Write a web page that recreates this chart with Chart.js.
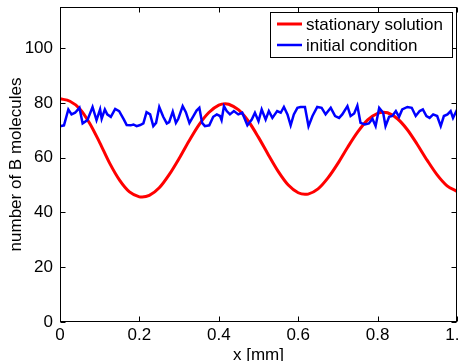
<!DOCTYPE html>
<html>
<head>
<meta charset="utf-8">
<script src="https://cdn.jsdelivr.net/npm/chart.js@4.4.1/dist/chart.umd.min.js"></script>
<style>
  html, body { margin: 0; padding: 0; background: #fff; }
  canvas { display: block; }
</style>
</head>
<body>
<canvas id="chart" width="459" height="361"></canvas>
<script>
// data
const xTicks = [0, 0.2, 0.4, 0.6, 0.8, 1];
const yTicks = [0, 20, 40, 60, 80, 100];

const stationaryX = [0, 0.025, 0.05, 0.075, 0.1, 0.125, 0.15, 0.175, 0.2, 0.207, 0.225, 0.25, 0.275, 0.3, 0.325, 0.35, 0.375, 0.4, 0.416, 0.425, 0.45, 0.475, 0.5, 0.525, 0.55, 0.575, 0.6, 0.617, 0.625, 0.65, 0.675, 0.7, 0.725, 0.75, 0.775, 0.8, 0.814, 0.825, 0.85, 0.875, 0.9, 0.925, 0.95, 0.975, 1.0];
const stationaryY = [81.5, 80.6, 77.8, 72.5, 65.5, 58.0, 51.8, 47.5, 45.7, 45.6, 46.2, 49.0, 53.8, 59.7, 66.1, 72.0, 76.5, 79.2, 79.7, 79.5, 77.4, 73.2, 67.4, 61.0, 54.9, 50.0, 47.2, 46.6, 46.7, 48.6, 52.6, 57.9, 63.9, 69.4, 73.8, 76.2, 76.6, 76.4, 74.2, 70.2, 64.8, 59.0, 53.7, 49.7, 47.7];

const initialX = [0, 0.010, 0.021, 0.029, 0.038, 0.049, 0.057, 0.069, 0.082, 0.092, 0.101, 0.105, 0.113, 0.119, 0.128, 0.139, 0.149, 0.161, 0.168, 0.178, 0.185, 0.193, 0.202, 0.210, 0.218, 0.227, 0.235, 0.242, 0.250, 0.260, 0.269, 0.275, 0.284, 0.292, 0.298, 0.309, 0.317, 0.326, 0.336, 0.344, 0.351, 0.358, 0.365, 0.376, 0.386, 0.395, 0.403, 0.407, 0.413, 0.420, 0.428,
  0.438, 0.449, 0.459, 0.472, 0.483, 0.491, 0.500, 0.508, 0.518, 0.526, 0.535, 0.547, 0.556, 0.564, 0.573, 0.581, 0.589, 0.598, 0.606, 0.617, 0.626, 0.636, 0.648, 0.659, 0.669, 0.682, 0.693, 0.703, 0.711, 0.724, 0.732, 0.741, 0.749, 0.757, 0.768, 0.778, 0.787, 0.795, 0.804, 0.814, 0.820, 0.829, 0.837, 0.846, 0.854, 0.862, 0.875, 0.886, 0.896, 0.906, 0.914, 0.923, 0.931, 0.940, 0.950, 0.959, 0.967, 0.976, 0.984, 0.990, 1.0];
const initialY = [71.5, 71.8, 77.6, 75.8, 76.4, 78.2, 72.5, 73.7, 78.5, 73.7, 77.6, 74.2, 77.6, 75.8, 74.9, 77.8, 77.0, 73.9, 71.9, 71.8, 72.1, 71.5, 71.9, 72.5, 76.6, 75.8, 71.5, 72.7, 78.5, 74.9, 72.5, 73.0, 76.8, 72.7, 74.2, 78.8, 76.6, 72.7, 75.2, 77.2, 78.2, 72.7, 71.5, 71.8, 74.9, 75.8, 75.2, 73.7, 78.8, 77.0, 75.8,
  77.0, 75.8, 76.4, 71.8, 73.9, 76.4, 73.3, 77.6, 73.9, 77.0, 74.5, 77.0, 76.4, 78.5, 75.8, 71.8, 75.8, 78.2, 78.5, 78.5, 71.5, 75.2, 78.5, 78.2, 75.8, 78.2, 75.2, 74.5, 75.8, 78.8, 75.2, 76.1, 79.0, 72.7, 72.1, 72.5, 74.2, 71.5, 78.2, 76.4, 71.5, 74.9, 75.2, 77.0, 74.9, 77.6, 78.5, 78.2, 75.2, 77.0, 77.6, 75.2, 74.5, 75.8, 75.2, 71.5, 75.2, 75.8, 77.0, 74.5, 77.5];

const FONT = '"Liberation Sans", Arial, Helvetica, sans-serif';

const toPoints = (xs, ys) => xs.map((x, i) => ({ x: x, y: ys[i] }));

// box, inward ticks, axis titles and the boxed legend (matlab look)
const matlabFrame = {
  id: 'matlabFrame',
  afterDatasetsDraw(chart) {
    const { ctx, chartArea: a, scales } = chart;
    const L = Math.round(a.left) + 0.5, R = Math.round(a.right) - 0.5;
    const T = Math.round(a.top) + 0.5, B = Math.round(a.bottom) - 0.5;
    ctx.save();
    ctx.strokeStyle = '#000';
    ctx.lineWidth = 1;
    ctx.strokeRect(L, T, R - L, B - T);

    const tl = 5;
    ctx.beginPath();
    xTicks.forEach(v => {
      const px = Math.round(scales.x.getPixelForValue(v)) + 0.5;
      ctx.moveTo(px, B); ctx.lineTo(px, B - tl);
      ctx.moveTo(px, T); ctx.lineTo(px, T + tl);
    });
    yTicks.forEach(v => {
      const py = Math.round(scales.y.getPixelForValue(v)) + 0.5;
      ctx.moveTo(L, py); ctx.lineTo(L + tl, py);
      ctx.moveTo(R, py); ctx.lineTo(R - tl, py);
    });
    ctx.stroke();

    // axis titles
    ctx.fillStyle = '#000';
    ctx.font = '17px ' + FONT;
    ctx.textAlign = 'center';
    ctx.textBaseline = 'alphabetic';
    ctx.fillText('x [mm]', (a.left + a.right) / 2, 360);
    ctx.save();
    ctx.translate(20.5, (a.top + a.bottom) / 2);
    ctx.rotate(-Math.PI / 2);
    ctx.fillText('number of B molecules', 0, 0);
    ctx.restore();

    // legend
    const bx = 270.5, by = 12.5, bw = 182, bh = 45;
    ctx.fillStyle = '#fff';
    ctx.fillRect(bx, by, bw, bh);
    ctx.strokeRect(bx, by, bw, bh);
    ctx.textAlign = 'left';
    ctx.textBaseline = 'middle';
    chart.data.datasets.forEach((ds, i) => {
      const ry = 24 + i * 21;
      ctx.strokeStyle = ds.borderColor;
      ctx.lineWidth = ds.borderWidth;
      ctx.beginPath();
      ctx.moveTo(277, ry); ctx.lineTo(302, ry);
      ctx.stroke();
      ctx.fillStyle = '#000';
      ctx.fillText(ds.label, 306, ry + 1);
    });
    ctx.restore();
  }
};

new Chart(document.getElementById('chart'), {
  type: 'line',
  data: {
    datasets: [{
      label: 'stationary solution',
      data: toPoints(stationaryX, stationaryY),
      borderColor: '#ff0000',
      borderWidth: 3,
      pointRadius: 0,
      cubicInterpolationMode: 'monotone',
      order: 2
    }, {
      label: 'initial condition',
      data: toPoints(initialX, initialY),
      borderColor: '#0000ff',
      borderWidth: 2.5,
      pointRadius: 0,
      tension: 0,
      order: 1
    }]
  },
  options: {
    responsive: false,
    animation: false,
    devicePixelRatio: 1,
    layout: { padding: { top: 7, right: 2, left: 0, bottom: 0 } },
    plugins: {
      legend: { display: false },
      tooltip: { enabled: false }
    },
    scales: {
      x: {
        type: 'linear',
        min: 0,
        max: 1,
        afterBuildTicks: s => { s.ticks = xTicks.map(v => ({ value: v })); },
        afterFit: s => { s.height = 39; s.paddingLeft = 0; s.paddingRight = 0; },
        grid: { display: false, drawTicks: false },
        border: { display: false },
        ticks: { color: '#000', padding: 3, font: { family: FONT, size: 17 } }
      },
      y: {
        min: 0,
        max: 115,
        afterBuildTicks: s => { s.ticks = yTicks.map(v => ({ value: v })); },
        afterFit: s => { s.width = 60; s.paddingTop = 0; s.paddingBottom = 0; },
        grid: { display: false, drawTicks: false },
        border: { display: false },
        ticks: { color: '#000', padding: 7, font: { family: FONT, size: 17 } }
      }
    }
  },
  plugins: [matlabFrame]
});
</script>
</body>
</html>
